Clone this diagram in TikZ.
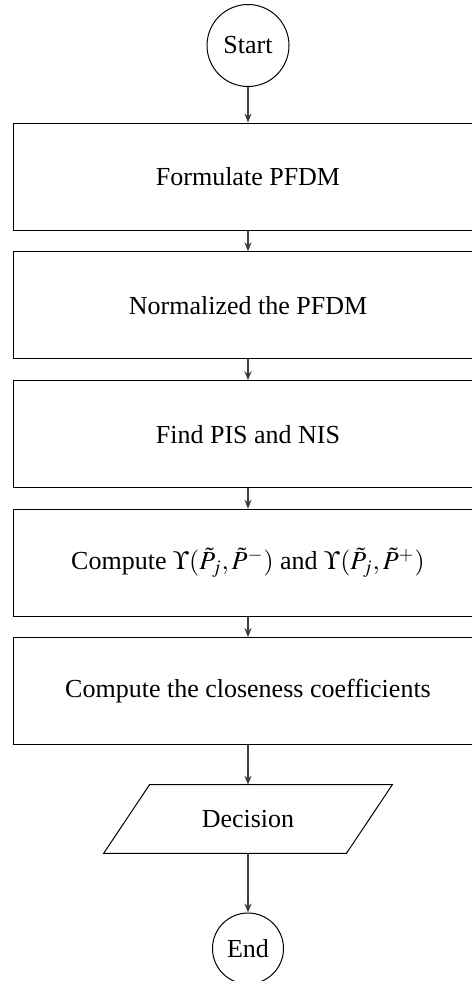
\documentclass[tikz,border=0pt]{standalone}
\usepackage{mathptmx}
\usepackage[no-math]{fontspec}
\setmainfont{Liberation Serif}
\usetikzlibrary{arrows.meta}
\begin{document}
\begin{tikzpicture}[x=0.5pt,y=-0.5pt,
  every node/.style={font=\fontsize{13}{15}\selectfont},
  termnode/.style={circle,draw,line width=0.5pt,inner sep=0pt},
  procbox/.style={rectangle,draw,line width=0.5pt,minimum width=235pt,minimum height=53.5pt,inner sep=0pt},
  conn/.style={line width=0.6pt,draw=black!75,-{Stealth[length=4.5pt,width=3.6pt,fill=black]}}]
\clip (0,0) rectangle (472,981);
\node[termnode,minimum size=41pt] (start) at (248,45.5) {Start};
\node[procbox] (b1) at (248,176.5) {Formulate PFDM};
\node[procbox] (b2) at (248,305.3) {Normalized the PFDM};
\node[procbox] (b3) at (248,434.2) {Find PIS and NIS};
\node[procbox] (b4) at (248,562.8) {Compute $\Upsilon(\tilde{P}_j,\tilde{P}^{-})$ and $\Upsilon(\tilde{P}_j,\tilde{P}^{+})$};
\node[procbox] (b5) at (248,691) {Compute the closeness coefficients};
\node[minimum width=121pt,minimum height=34pt,inner sep=0pt] (dec) at (248,819) {Decision};
\draw[line width=0.5pt] ([xshift=-11.5pt]dec.south west) -- ([xshift=11.5pt]dec.north west)
  -- ([xshift=11.5pt]dec.north east) -- ([xshift=-11.5pt]dec.south east) -- cycle;
\node[termnode,minimum size=35.5pt] (end) at (248,948.5) {End};
\draw[conn] (start) -- (b1);
\draw[conn] (b1) -- (b2);
\draw[conn] (b2) -- (b3);
\draw[conn] (b3) -- (b4);
\draw[conn] (b4) -- (b5);
\draw[conn] (b5) -- (dec);
\draw[conn] (dec) -- (end);
\end{tikzpicture}
\end{document}
